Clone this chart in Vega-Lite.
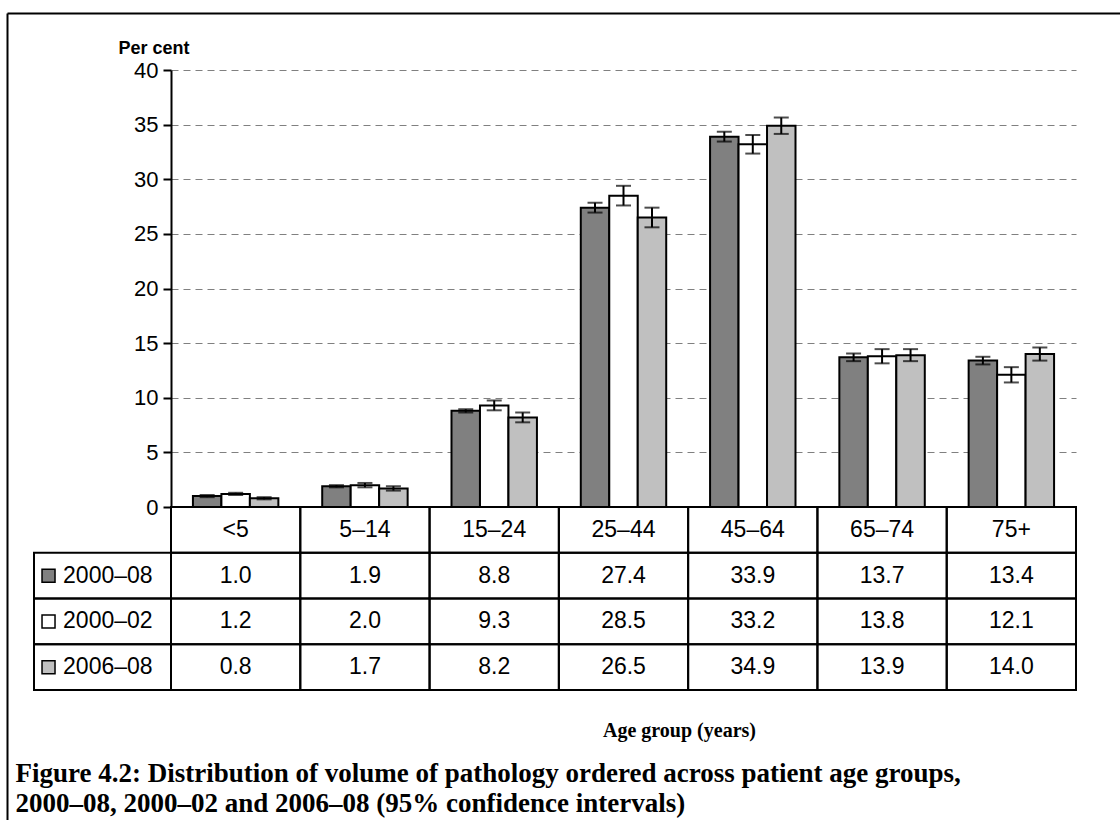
{
  "$schema": "https://vega.github.io/schema/vega-lite/v6.json",
  "width": 905,
  "height": 437,
  "autosize": {"type": "none"},
  "padding": {"left": 171, "top": 70, "right": 44, "bottom": 313},
  "background": "white",
  "config": {
    "view": {"stroke": null},
    "font": "Liberation Sans",
    "text": {"font": "Liberation Sans", "color": "black"}
  },
  "datasets": {
    "ci": [
      {"age": "<5", "series": "2000–08", "value": 1.0, "lo": 0.9, "hi": 1.1},
      {"age": "<5", "series": "2000–02", "value": 1.2, "lo": 1.1, "hi": 1.3},
      {"age": "<5", "series": "2006–08", "value": 0.8, "lo": 0.7, "hi": 0.9},
      {"age": "5–14", "series": "2000–08", "value": 1.9, "lo": 1.8, "hi": 2.0},
      {"age": "5–14", "series": "2000–02", "value": 2.0, "lo": 1.8, "hi": 2.2},
      {"age": "5–14", "series": "2006–08", "value": 1.7, "lo": 1.5, "hi": 1.9},
      {"age": "15–24", "series": "2000–08", "value": 8.8, "lo": 8.65, "hi": 8.95},
      {"age": "15–24", "series": "2000–02", "value": 9.3, "lo": 8.85, "hi": 9.75},
      {"age": "15–24", "series": "2006–08", "value": 8.2, "lo": 7.75, "hi": 8.65},
      {"age": "25–44", "series": "2000–08", "value": 27.4, "lo": 26.95, "hi": 27.85},
      {"age": "25–44", "series": "2000–02", "value": 28.5, "lo": 27.6, "hi": 29.4},
      {"age": "25–44", "series": "2006–08", "value": 26.5, "lo": 25.6, "hi": 27.4},
      {"age": "45–64", "series": "2000–08", "value": 33.9, "lo": 33.45, "hi": 34.35},
      {"age": "45–64", "series": "2000–02", "value": 33.2, "lo": 32.35, "hi": 34.05},
      {"age": "45–64", "series": "2006–08", "value": 34.9, "lo": 34.15, "hi": 35.65},
      {"age": "65–74", "series": "2000–08", "value": 13.7, "lo": 13.35, "hi": 14.05},
      {"age": "65–74", "series": "2000–02", "value": 13.8, "lo": 13.15, "hi": 14.45},
      {"age": "65–74", "series": "2006–08", "value": 13.9, "lo": 13.35, "hi": 14.45},
      {"age": "75+", "series": "2000–08", "value": 13.4, "lo": 13.05, "hi": 13.75},
      {"age": "75+", "series": "2000–02", "value": 12.1, "lo": 11.4, "hi": 12.8},
      {"age": "75+", "series": "2006–08", "value": 14.0, "lo": 13.4, "hi": 14.6}
    ],
    "ages": [
      {"age": "<5"}, {"age": "5–14"}, {"age": "15–24"}, {"age": "25–44"},
      {"age": "45–64"}, {"age": "65–74"}, {"age": "75+"}
    ],
    "series": [
      {"series": "2000–08"}, {"series": "2000–02"}, {"series": "2006–08"}
    ]
  },
  "resolve": {
    "scale": {"x": "independent", "y": "independent"},
    "axis": {"x": "independent", "y": "independent"}
  },
  "layer": [
    {
      "data": {"name": "ci"},
      "encoding": {
        "x": {
          "field": "age", "type": "nominal",
          "sort": ["<5", "5–14", "15–24", "25–44", "45–64", "65–74", "75+"],
          "scale": {"paddingInner": 0, "paddingOuter": 0},
          "axis": null
        },
        "xOffset": {
          "field": "series", "type": "nominal",
          "sort": ["2000–08", "2000–02", "2006–08"],
          "scale": {"paddingInner": 0, "paddingOuter": 0.77}
        }
      },
      "layer": [
        {
          "mark": {"type": "bar", "stroke": "black", "strokeWidth": 2},
          "encoding": {
            "y": {
              "field": "value", "type": "quantitative",
              "scale": {"domain": [0, 40], "nice": false},
              "axis": {
                "values": [0, 5, 10, 15, 20, 25, 30, 35, 40],
                "grid": true, "gridDash": [7, 5], "gridColor": "#808080", "gridWidth": 1.2,
                "domainColor": "black", "domainWidth": 2,
                "tickColor": "black", "tickSize": 8, "tickWidth": 2,
                "labelFont": "Liberation Sans", "labelFontSize": 22, "labelColor": "black", "labelPadding": 5,
                "title": "Per cent", "titleAngle": 0, "titleAlign": "left", "titleBaseline": "alphabetic",
                "titleX": -53, "titleY": -17,
                "titleFont": "Liberation Sans", "titleFontSize": 18, "titleFontWeight": "bold", "titleColor": "black"
              }
            },
            "fill": {
              "field": "series", "type": "nominal",
              "scale": {"domain": ["2000–08", "2000–02", "2006–08"], "range": ["#808080", "#ffffff", "#c0c0c0"]},
              "legend": null
            }
          }
        },
        {
          "mark": {"type": "rule", "color": "black", "strokeWidth": 2},
          "encoding": {
            "y": {"field": "lo", "type": "quantitative"},
            "y2": {"field": "hi"}
          }
        },
        {
          "mark": {"type": "tick", "color": "black", "thickness": 2, "size": 15},
          "encoding": {"y": {"field": "lo", "type": "quantitative"}}
        },
        {
          "mark": {"type": "tick", "color": "black", "thickness": 2, "size": 15},
          "encoding": {"y": {"field": "hi", "type": "quantitative"}}
        }
      ]
    },
    {
      "encoding": {
        "x": {
          "field": "age", "type": "nominal",
          "sort": ["<5", "5–14", "15–24", "25–44", "45–64", "65–74", "75+"],
          "scale": {"paddingInner": 0, "paddingOuter": 0},
          "axis": {
            "orient": "bottom", "domain": false, "ticks": false, "labels": false, "grid": false,
            "title": "Age group (years)", "titleX": 508, "titleY": 229,
            "titleAlign": "center", "titleBaseline": "alphabetic",
            "titleFont": "Liberation Serif", "titleFontSize": 20, "titleFontWeight": "bold", "titleColor": "black"
          }
        }
      },
      "layer": [
        {
          "data": {"name": "ages"},
          "mark": {"type": "rect", "fill": "white", "fillOpacity": 0, "stroke": "black", "strokeWidth": 2},
          "encoding": {
            "y": {
              "datum": "head", "type": "nominal",
              "scale": {"domain": ["head", "2000–08", "2000–02", "2006–08"], "range": [437, 620], "paddingInner": 0, "paddingOuter": 0},
              "axis": null
            }
          }
        },
        {
          "data": {"name": "ages"},
          "mark": {"type": "text", "fontSize": 23, "baseline": "middle"},
          "encoding": {
            "y": {"datum": "head", "type": "nominal"},
            "text": {"field": "age"}
          }
        },
        {
          "data": {"name": "ci"},
          "mark": {"type": "rect", "fill": "white", "fillOpacity": 0, "stroke": "black", "strokeWidth": 2},
          "encoding": {"y": {"field": "series", "type": "nominal"}}
        },
        {
          "data": {"name": "ci"},
          "mark": {"type": "text", "fontSize": 23, "baseline": "middle"},
          "encoding": {
            "y": {"field": "series", "type": "nominal"},
            "text": {"field": "value", "type": "quantitative", "format": ".1f"}
          }
        }
      ]
    },
    {
      "data": {"name": "series"},
      "encoding": {
        "y": {
          "field": "series", "type": "nominal",
          "scale": {"domain": ["head", "2000–08", "2000–02", "2006–08"], "range": [437, 620], "paddingInner": 0, "paddingOuter": 0},
          "axis": null
        }
      },
      "layer": [
        {
          "mark": {"type": "rect", "fill": "white", "fillOpacity": 0, "stroke": "black", "strokeWidth": 2},
          "encoding": {
            "x": {"datum": "row label", "type": "nominal", "scale": {"domain": ["row label"], "range": [-137, 0], "paddingInner": 0, "paddingOuter": 0}, "axis": null}
          }
        },
        {
          "mark": {"type": "point", "shape": "square", "size": 169, "filled": true, "stroke": "black", "strokeWidth": 1.5, "opacity": 1},
          "encoding": {
            "x": {"datum": "row label", "type": "nominal", "bandPosition": 0.106},
            "fill": {"field": "series", "type": "nominal", "legend": null}
          }
        },
        {
          "mark": {"type": "text", "fontSize": 23, "baseline": "middle", "align": "left"},
          "encoding": {
            "x": {"datum": "row label", "type": "nominal", "bandPosition": 0.212},
            "text": {"field": "series"}
          }
        }
      ]
    },
    {
      "data": {"values": [{"corner": 0}]},
      "mark": {"type": "point", "opacity": 0},
      "encoding": {
        "x": {
          "datum": 0, "type": "quantitative",
          "scale": {"domain": [0, 1], "range": [-164, 949], "nice": false, "zero": false},
          "axis": {
            "orient": "top", "offset": 57, "domain": true, "domainColor": "black", "domainWidth": 2,
            "ticks": false, "labels": false, "grid": false,
            "title": [
              "Figure 4.2: Distribution of volume of pathology ordered across patient age groups,",
              "2000–08, 2000–02 and 2006–08 (95% confidence intervals)"
            ],
            "titleX": -156, "titleY": 768, "titleAlign": "left", "titleBaseline": "alphabetic",
            "titleFont": "Liberation Serif", "titleFontSize": 27, "titleFontWeight": "bold", "titleColor": "black",
            "titleLineHeight": 30
          }
        },
        "y": {
          "datum": 0, "type": "quantitative",
          "scale": {"domain": [0, 1], "range": [750, -57], "nice": false, "zero": false},
          "axis": {
            "orient": "left", "offset": 164, "domain": true, "domainColor": "black", "domainWidth": 2,
            "ticks": false, "labels": false, "grid": false, "title": null
          }
        }
      }
    }
  ]
}
